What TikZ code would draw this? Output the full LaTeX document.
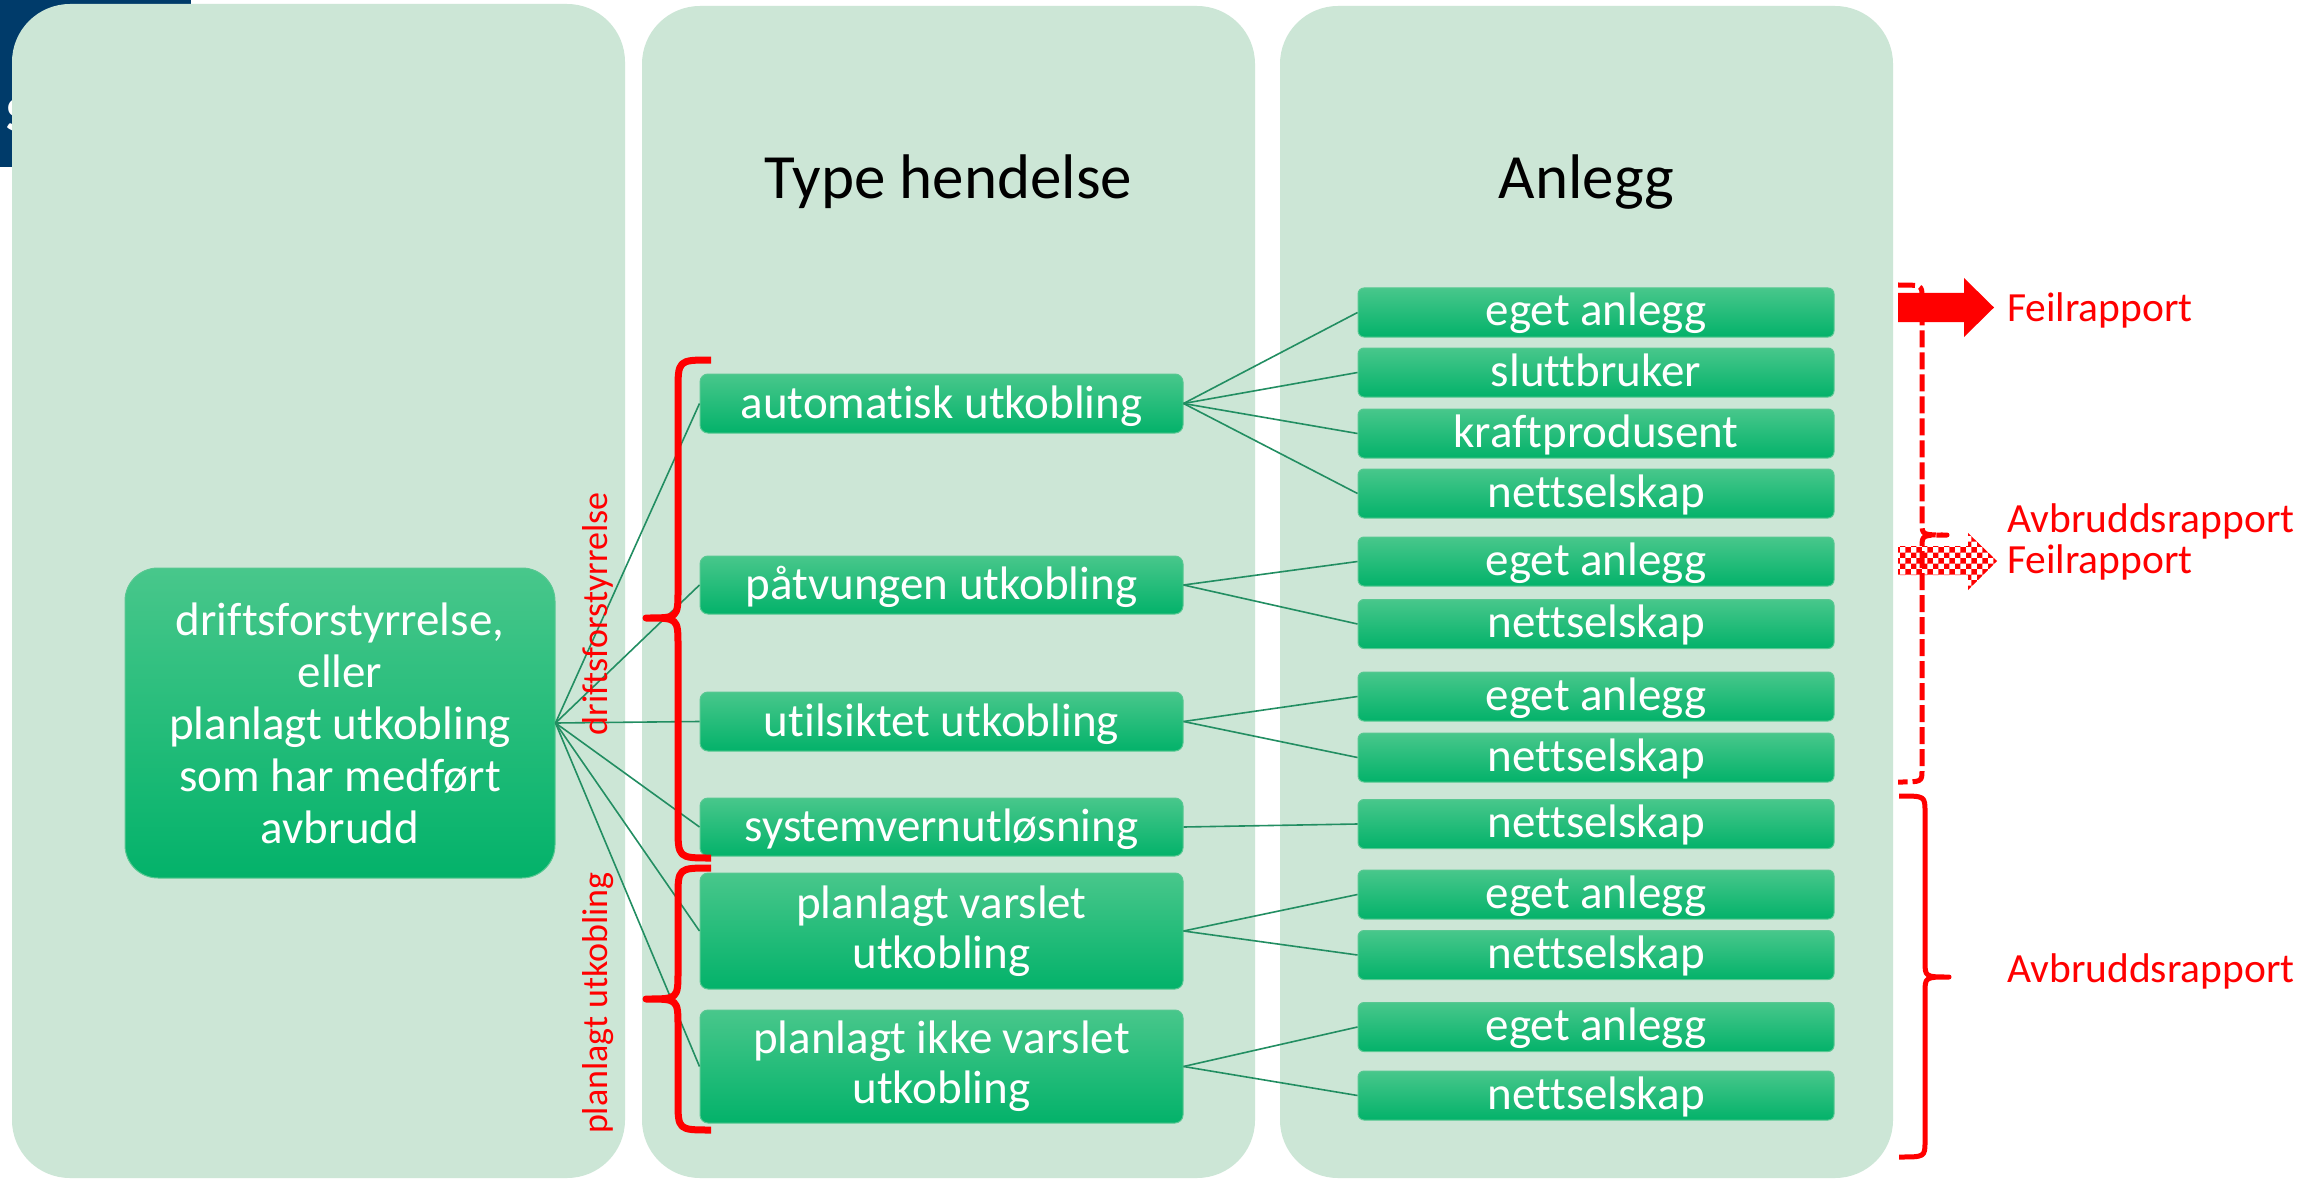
\documentclass[tikz,border=0pt]{standalone}
\usepackage{fontspec}
\setmainfont{Carlito}[Ligatures=NoCommon, RawFeature={-liga;-clig;-calt;-dlig}]
\usetikzlibrary{patterns}
\definecolor{panelc}{RGB}{204,230,214}
\definecolor{navy}{RGB}{0,59,106}
\definecolor{gTop}{RGB}{72,199,139}
\definecolor{gMid}{RGB}{16,192,122}
\definecolor{gBot}{RGB}{3,178,106}
\definecolor{gEdge}{RGB}{88,200,146}
\definecolor{connc}{RGB}{34,142,98}
\begin{document}
\begin{tikzpicture}[x=1pt,y=-1pt,
  panel/.style={fill=panelc, rounded corners=58pt},
  gbox/.style={draw=gEdge, line width=1pt, top color=gTop, middle color=gMid, bottom color=gBot, text=white, inner sep=0pt, align=center},
  midbox/.style={gbox, rounded corners=8pt, minimum width=483pt, font=\fontsize{47}{50}\selectfont},
  onel/.style={text height=35pt, text depth=6pt},
  rbox/.style={gbox, rounded corners=6pt, minimum width=476pt, minimum height=49pt, font=\fontsize{47}{50}\selectfont, text height=33pt, text depth=6pt},
  conn/.style={draw=connc, line width=1.6pt},
  braceL/.style={draw=red, line width=7pt, line join=round},
  braceR/.style={draw=red, line width=5pt, line join=round},
  redtxt/.style={text=red, inner sep=0pt, anchor=base west, font=\fontsize{41.5}{41}\selectfont},
  head/.style={anchor=base, inner sep=0pt, font=\fontsize{63}{70}\selectfont}
]
\useasboundingbox (0,0) rectangle (2318,1182);
\fill[white] (0,0) rectangle (2318,1182);
% top-left dark corner
\fill[navy] (0,0) rectangle (191,167);
\node[anchor=base west, inner sep=0pt, text=white, font=\fontsize{50}{50}\selectfont\bfseries] (S) at (6,132) {S};
% panels
\fill[panel] (12,4) rectangle (625,1178);
\fill[panel] (642,6) rectangle (1255,1178);
\fill[panel] (1280,6) rectangle (1893,1178);
% headers
\node[head] (h2) at (948.5,199) {Type hendelse};
\node[head] (h3) at (1586.5,199) {Anlegg};
% left box
\node[gbox, rounded corners=33pt, minimum width=430pt, minimum height=310pt, font=\fontsize{47}{52}\selectfont] (L) at (340,723)
  {driftsforstyrrelse,\\eller\\planlagt utkobling\\som har medført\\avbrudd};
% middle boxes
\node[midbox, onel, minimum height=59pt] (m1) at (941.5,403.5) {automatisk utkobling};
\node[midbox, onel, minimum height=58pt] (m2) at (941.5,585) {påtvungen utkobling};
\node[midbox, onel, minimum height=59pt] (m3) at (941.5,721.5) {utilsiktet utkobling};
\node[midbox, onel, minimum height=58pt] (m4) at (941.5,827) {systemvernutløsning};
\node[midbox, minimum height=116pt] (m5) at (941.5,931) {planlagt varslet\\utkobling};
\node[midbox, minimum height=113pt] (m6) at (941.5,1066.5) {planlagt ikke varslet\\utkobling};
% right boxes
\node[rbox] (r1) at (1596,312.5) {eget anlegg};
\node[rbox] (r2) at (1596,372.5) {sluttbruker};
\node[rbox] (r3) at (1596,433.5) {kraftprodusent};
\node[rbox] (r4) at (1596,493.5) {nettselskap};
\node[rbox] (r5) at (1596,561.5) {eget anlegg};
\node[rbox] (r6) at (1596,624) {nettselskap};
\node[rbox] (r7) at (1596,696.5) {eget anlegg};
\node[rbox] (r8) at (1596,757.5) {nettselskap};
\node[rbox] (r9) at (1596,824) {nettselskap};
\node[rbox] (r10) at (1596,894.5) {eget anlegg};
\node[rbox] (r11) at (1596,955) {nettselskap};
\node[rbox] (r12) at (1596,1027) {eget anlegg};
\node[rbox] (r13) at (1596,1095.5) {nettselskap};
% connectors
\foreach \m in {m1,m2,m3,m4,m5,m6} {\draw[conn] (L.east) -- (\m.west);}
\foreach \r in {r1,r2,r3,r4} {\draw[conn] (m1.east) -- (\r.west);}
\foreach \r in {r5,r6} {\draw[conn] (m2.east) -- (\r.west);}
\foreach \r in {r7,r8} {\draw[conn] (m3.east) -- (\r.west);}
\draw[conn] (m4.east) -- (r9.west);
\foreach \r in {r10,r11} {\draw[conn] (m5.east) -- (\r.west);}
\foreach \r in {r12,r13} {\draw[conn] (m6.east) -- (\r.west);}
% left braces
\draw[braceL] (711,360) .. controls (678,360) .. (678,392) -- (678,590) .. controls (678,618) .. (646,618)
  .. controls (678,618) .. (678,646) -- (678,826) .. controls (678,858) .. (711,858);
\draw[braceL] (711,868) .. controls (678,868) .. (678,898) -- (678,971) .. controls (678,999) .. (646,999)
  .. controls (678,999) .. (678,1027) -- (678,1100) .. controls (678,1130) .. (711,1130);
% rotated labels
\node[rotate=90, text=red, inner sep=0pt, font=\fontsize{36}{40}\selectfont] (lab1) at (598,614) {driftsforstyrrelse};
\node[rotate=90, text=red, inner sep=0pt, font=\fontsize{36}{40}\selectfont] (lab2) at (598,1003) {planlagt utkobling};
% right side arrows
\fill[red] (1898,293) -- (1964,293) -- (1964,278) -- (1994,307.5) -- (1964,337) -- (1964,322) -- (1898,322) -- cycle;
\fill[white] (1898,546) -- (1968,546) -- (1968,533) -- (1997,561) -- (1968,590) -- (1968,575) -- (1898,575) -- cycle;
\fill[pattern=checkerboard, pattern color=red] (1898,546) -- (1968,546) -- (1968,533) -- (1997,561) -- (1968,590) -- (1968,575) -- (1898,575) -- cycle;
% right braces
\draw[braceR, dash pattern=on 17pt off 5pt] (1898,285) .. controls (1922,285) .. (1922,297) -- (1922,523) .. controls (1922,535) .. (1947,535)
  .. controls (1922,535) .. (1922,547) -- (1922,770) .. controls (1922,782) .. (1898,782);
\draw[braceR] (1899,796) .. controls (1925,796) .. (1925,812) -- (1925,961) .. controls (1925,977) .. (1949,977)
  .. controls (1925,977) .. (1925,993) -- (1925,1141) .. controls (1925,1157) .. (1899,1157);
% red texts
\node[redtxt] (t1) at (2007,321) {Feilrapport};
\node[redtxt] (t2) at (2007,532) {Avbruddsrapport};
\node[redtxt] (t3) at (2007,573) {Feilrapport};
\node[redtxt] (t4) at (2007,982) {Avbruddsrapport};
\end{tikzpicture}
\end{document}
